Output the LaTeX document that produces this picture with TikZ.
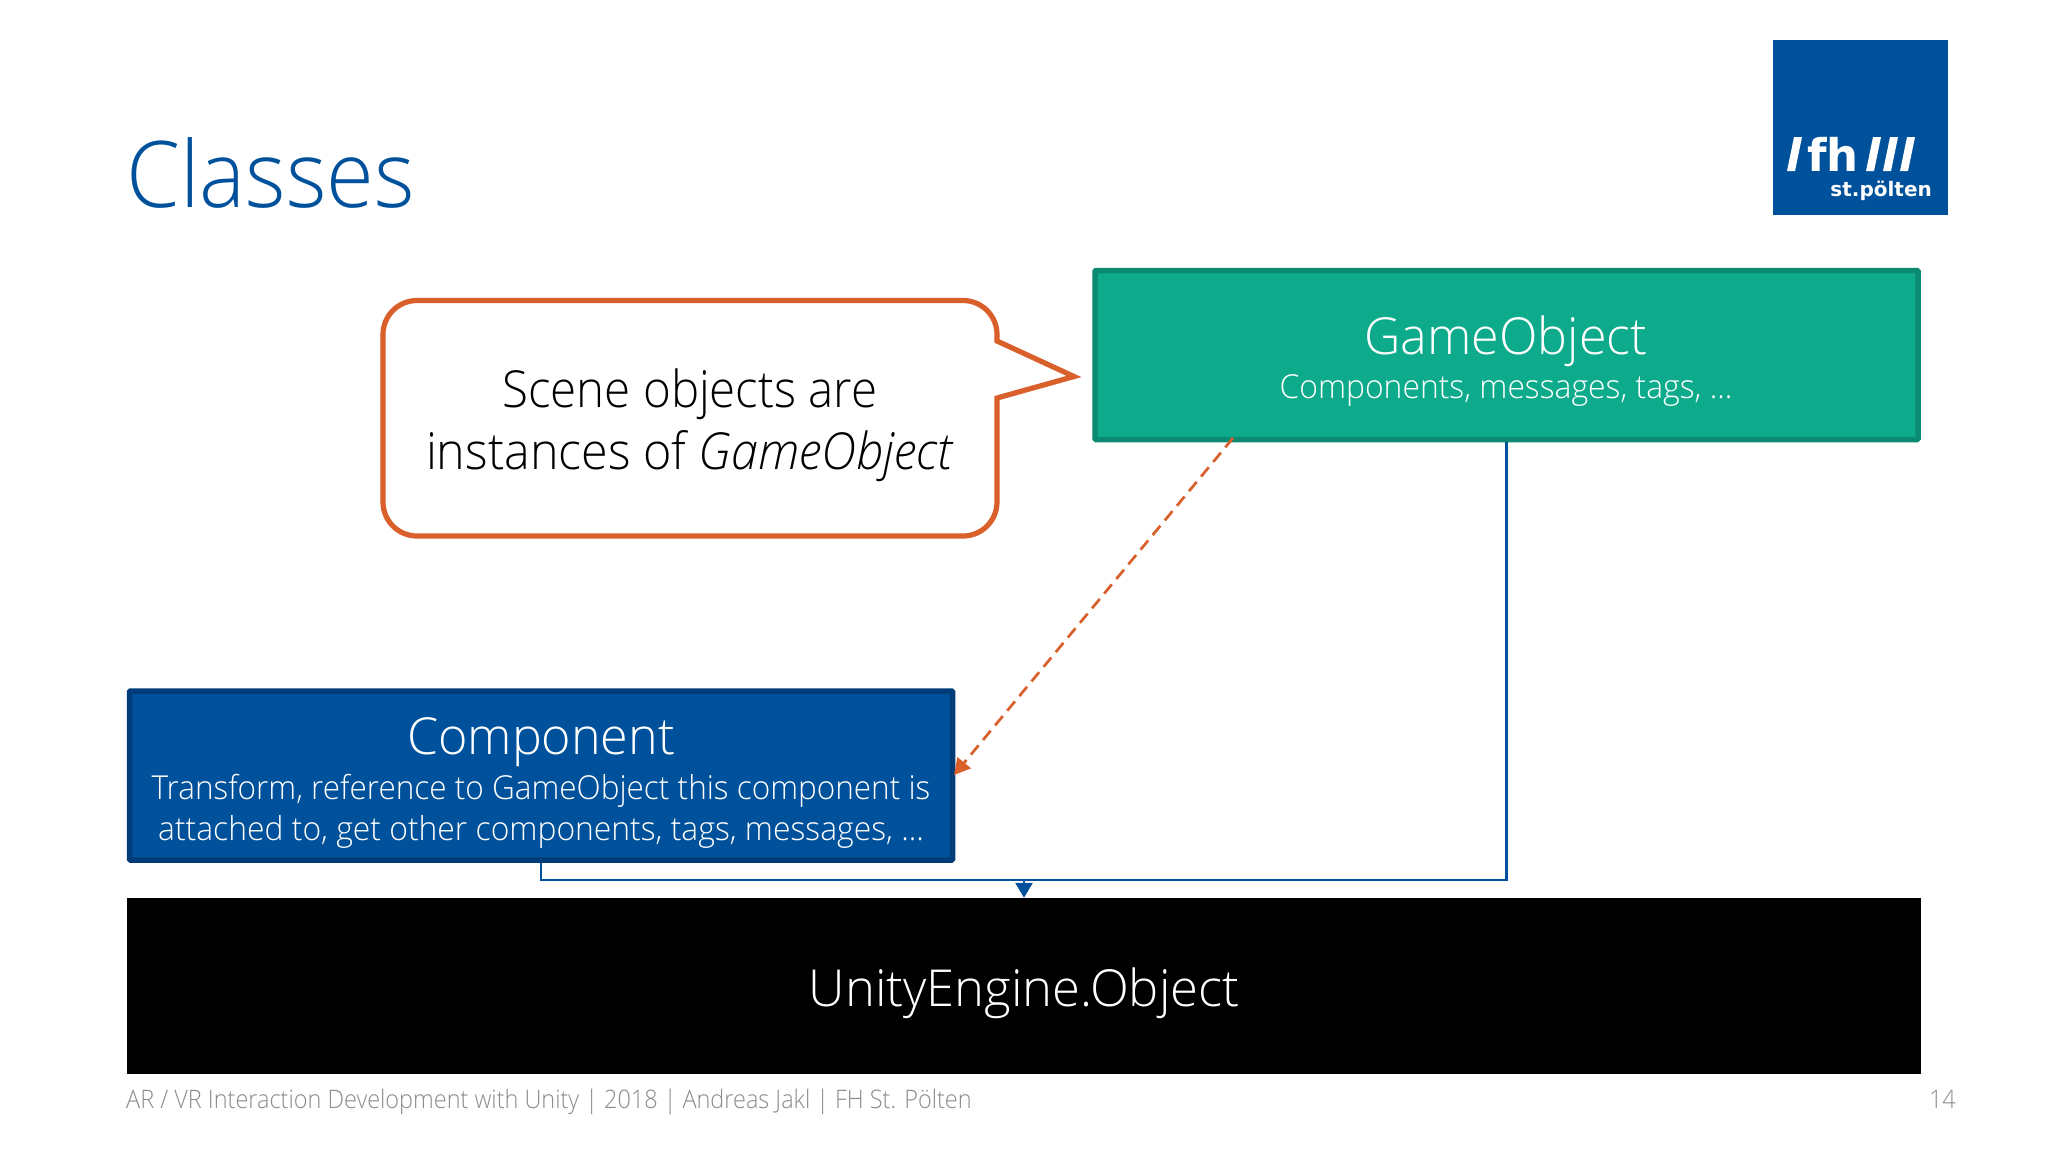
\documentclass[tikz,border=0pt]{standalone}
\usepackage{fontspec}
\setmainfont{Open Sans Light}[ItalicFont={Open Sans Light Italic}]
\newfontfamily\fstitle{Open Sans Light}[FakeStretch=0.944]
\newfontfamily\fshead{Open Sans Light}[FakeStretch=0.985]
\newfontfamily\fsunity{Open Sans Light}[FakeStretch=0.995]
\newfontfamily\fssub{Open Sans Light}[FakeStretch=0.955]
\newfontfamily\fssubb{Open Sans Light}[FakeStretch=0.965]
\newfontfamily\fsnotea{Open Sans Light}[FakeStretch=0.93]
\newfontfamily\fsnote{Open Sans Light}[ItalicFont={Open Sans Light Italic},FakeStretch=0.95]
\newfontfamily\fsfoot{Open Sans Light}[FakeStretch=0.92]
\newfontfamily\logofont{DejaVu Sans}[BoldFont={DejaVu Sans Bold}]
\usetikzlibrary{arrows.meta}
\definecolor{fhblue}{HTML}{00519B}
\definecolor{fhblued}{HTML}{003C78}
\definecolor{fhgreen}{HTML}{0DAB8C}
\definecolor{fhgreend}{HTML}{0B8A72}
\definecolor{fhorange}{HTML}{D95F2B}
\definecolor{fhgray}{HTML}{8C8C8C}
\tikzset{
  px/.style={x=1pt,y=-1pt},
  classbox/.style={minimum width=823pt,minimum height=169pt,line width=5.5pt,inner sep=0pt,rounded corners=1pt},
  head/.style={font=\fshead\fontsize{51}{60}\selectfont,text=white,inner sep=0pt,anchor=center},
  sub/.style={font=\fssub\fontsize{33}{42}\selectfont,text=white,inner sep=0pt,anchor=center},
  link/.style={draw=fhblue,line width=2.6pt},
  dashlink/.style={draw=fhorange,line width=2.7pt,dash pattern=on 12pt off 7pt,-{Triangle[length=16pt,width=17pt]}},
  slashmark/.style={fill=white,draw=none},
}
\begin{document}
\begin{tikzpicture}[px]
\useasboundingbox (0,0) rectangle (2048,1152);
\fill[white] (0,0) rectangle (2048,1152);
% title
\node[anchor=base west,inner sep=0pt,text=fhblue,font=\fstitle\fontsize{92}{100}\selectfont] (title) at (126,207) {Classes};
% logo
\node[fill=fhblue,minimum width=175pt,minimum height=175pt,inner sep=0pt] (logo) at (1860.5,127) {};
\node[anchor=base west,inner sep=0pt,text=white,font=\logofont\bfseries\fontsize{45}{50}\selectfont] (logotext) at (1807,171) {fh};
\foreach \sx in {1787,1866,1883,1900}{
  \fill[slashmark] (\sx,171) -- (\sx+8,171) -- (\sx+15,137) -- (\sx+7,137) -- cycle;
}
\node[anchor=base east,inner sep=0pt,text=white,font=\logofont\bfseries\fontsize{20}{24}\selectfont] (logosub) at (1932,196) {st.pölten};
% boxes
\node[classbox,fill=fhgreen,draw=fhgreend] (game) at (1506.5,355) {};
\node[classbox,fill=fhblue,draw=fhblued] (comp) at (541,775.5) {};
\node[fill=black,minimum width=1794pt,minimum height=176pt,inner sep=0pt] (unity) at (1024,986) {};
\node[head] (gametitle) at (1506,341) {GameObject};
\node[sub] (gamesub) at (1506,391) {\fssubb Components, messages, tags, ...};
\node[head] (comptitle) at (541,742) {Component};
\node[sub,align=center] (compsub) at (541,811.5) {Transform, reference to GameObject this component is\\[-0.6pt]{\fssubb attached to, get other components, tags, messages, ...}};
\node[head,font=\fsunity\fontsize{51}{60}\selectfont] (unitytitle) at (1024,993) {UnityEngine.Object};
% callout
\draw[draw=fhorange,line width=5.2pt,fill=white,line join=miter]
  (997,341) -- (1074,376.5) -- (997,398) -- (997,502)
  arc[start angle=0,end angle=90,radius=34] -- (417,536)
  arc[start angle=90,end angle=180,radius=34] -- (383,334.5)
  arc[start angle=180,end angle=270,radius=34] -- (963,300.5)
  arc[start angle=270,end angle=360,radius=34] -- cycle;
\node[inner sep=0pt,align=center,font=\fsnote\fontsize{51}{61.5}\selectfont] (note) at (690,425) {{\fsnotea Scene objects are}\\instances of \textit{GameObject}};
% connectors
\coordinate (gs) at (1233,438);
\coordinate (ct) at (954,775);
\coordinate (bend) at (1024,880);
\draw[link] (comp.south) |- (bend);
\draw[link] (game.south) |- (bend);
\draw[link,-{Triangle[length=15pt,width=17pt]}] (bend) -- (bend |- unity.north);
\draw[dashlink] (gs) -- (ct);
% footer
\node[anchor=base west,inner sep=0pt,text=fhgray,font=\fsfoot\fontsize{25.5}{30}\selectfont] (foot) at (126,1108) {AR / VR Interaction Development with Unity | 2018 | Andreas Jakl | FH St. Pölten};
\node[anchor=base east,inner sep=0pt,text=fhgray,font=\fsfoot\fontsize{25.5}{30}\selectfont] (page) at (1956,1108) {14};
\end{tikzpicture}
\end{document}
